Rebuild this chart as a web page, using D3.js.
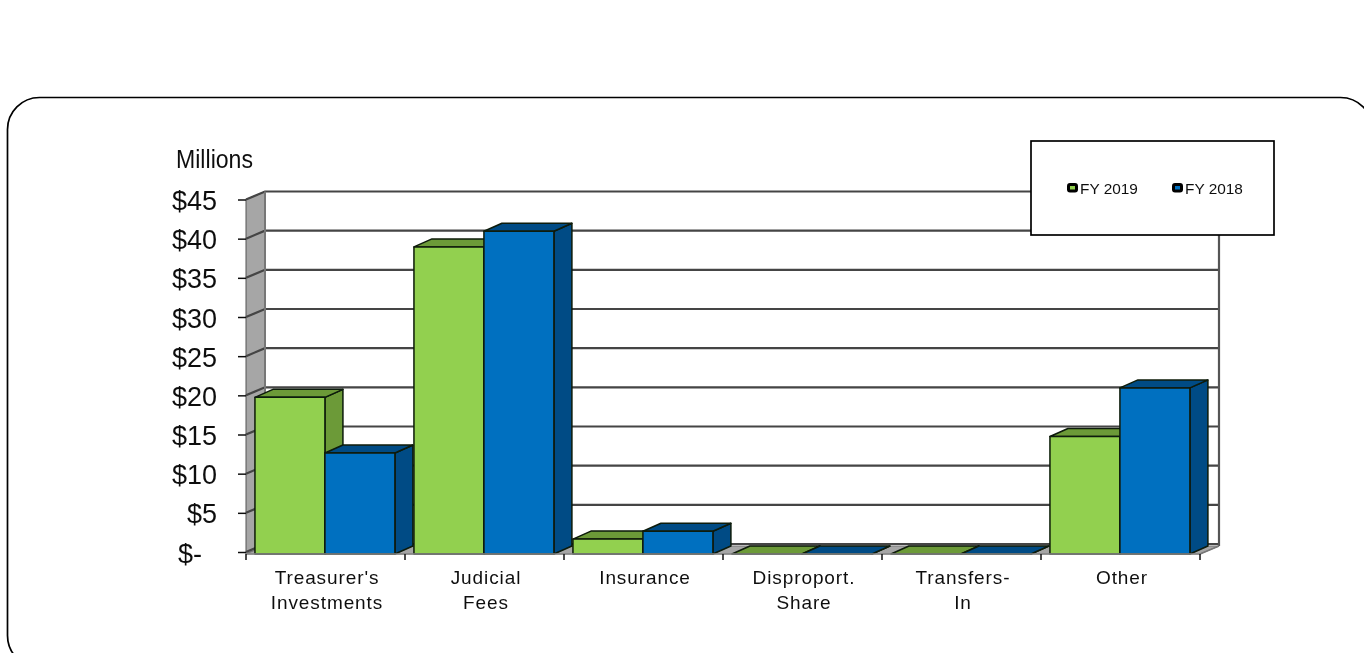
<!DOCTYPE html>
<html>
<head>
<meta charset="utf-8">
<script src="https://cdn.jsdelivr.net/npm/d3@7"></script>
<style>
  html, body { margin: 0; padding: 0; background: #fff; overflow: hidden; }
  text { font-family: "Liberation Sans", Arial, sans-serif; fill: #111; }
</style>
</head>
<body>
<div id="chart"></div>
<script>
// 数据
var categories = ["Treasurer's|Investments", "Judicial|Fees", "Insurance", "Disproport.|Share", "Transfers-|In", "Other"];
var seriesNames = ["FY 2019", "FY 2018"];
var fy2019 = [20, 39.2, 1.9, 0, 0, 15];
var fy2018 = [12.9, 41.2, 2.9, 0, 0, 21.2];
var yTicks = [0, 5, 10, 15, 20, 25, 30, 35, 40, 45];
var seriesValues = [fy2019, fy2018];

var frontColor = ["#92d050", "#0070c0"];
var darkColor = ["#6c9a38", "#004c85"];

var WIDTH = 1364, HEIGHT = 653;
var DEPTH_X = 19, DEPTH_Y = 8;   // 3D depth of the plot box
var BASE_SHIFT = 2;              // bars stand a bit below the zero tick

var svg = d3.select("#chart").append("svg")
  .attr("width", WIDTH)
  .attr("height", HEIGHT)
  .style("display", "block");

// soft edges, the original is a scaled-up bitmap
var defs = svg.append("defs");
defs.append("filter").attr("id", "soft")
  .attr("x", 0).attr("y", 0).attr("width", WIDTH).attr("height", HEIGHT)
  .attr("filterUnits", "userSpaceOnUse")
  .append("feGaussianBlur").attr("stdDeviation", 0.45);

var root = svg.append("g").attr("filter", "url(#soft)");

// outer rounded frame
root.append("rect")
  .attr("x", 7.5).attr("y", 97.5)
  .attr("width", 1365).attr("height", 570)
  .attr("rx", 32).attr("ry", 32)
  .attr("fill", "#fff").attr("stroke", "#000").attr("stroke-width", 1.7);

var yScale = d3.scaleLinear().domain([0, 45]).range([552, 199.5]);
var x0 = 246, x1 = 1200;
var xScale = d3.scaleBand().domain(categories).range([x0, x1]);
var serScale = d3.scaleBand().domain(seriesNames).range([0, xScale.bandwidth()]).paddingOuter(0.136).align(0.47);

var yBase = yScale(0) + BASE_SHIFT;

// side wall and floor
root.append("polygon")
  .attr("points", [[x0, yScale(45)], [x0 + DEPTH_X, yScale(45) - DEPTH_Y], [x0 + DEPTH_X, yBase - DEPTH_Y], [x0, yBase]].join(" "))
  .attr("fill", "#a6a6a6").attr("stroke", "#555").attr("stroke-width", 1);
root.append("polygon")
  .attr("points", [[x0, yBase], [x0 + DEPTH_X, yBase - DEPTH_Y], [x1 + DEPTH_X, yBase - DEPTH_Y], [x1, yBase]].join(" "))
  .attr("fill", "#a6a6a6").attr("stroke", "#777").attr("stroke-width", 1);

// back wall gridlines
var grid = root.append("g").attr("class", "grid");
yTicks.forEach(function (v) {
  var y = yScale(v);
  grid.append("path")
    .attr("d", "M" + x0 + "," + y + "L" + (x0 + DEPTH_X) + "," + (y - DEPTH_Y) + "L" + (x1 + DEPTH_X) + "," + (y - DEPTH_Y))
    .attr("fill", "none").attr("stroke", "#444").attr("stroke-width", 2.2);
});
grid.append("line")
  .attr("x1", x0 + DEPTH_X).attr("x2", x0 + DEPTH_X)
  .attr("y1", yScale(45) - DEPTH_Y).attr("y2", yBase - DEPTH_Y)
  .attr("stroke", "#777").attr("stroke-width", 2);
grid.append("line")
  .attr("x1", x1 + DEPTH_X).attr("x2", x1 + DEPTH_X)
  .attr("y1", yScale(45) - DEPTH_Y).attr("y2", yBase - DEPTH_Y)
  .attr("stroke", "#555").attr("stroke-width", 2.2);
grid.append("line")
  .attr("x1", x1).attr("x2", x1 + DEPTH_X)
  .attr("y1", yBase).attr("y2", yBase - DEPTH_Y)
  .attr("stroke", "#777").attr("stroke-width", 1.5);

// 画柱子
var bars = root.append("g").attr("class", "bars");
categories.forEach(function (cat, i) {
  seriesNames.forEach(function (name, s) {
    var v = seriesValues[s][i];
    var bx = xScale(cat) + serScale(name);
    var bw = serScale.bandwidth();
    var by = yScale(v) + BASE_SHIFT;
    var g = bars.append("g").attr("stroke", "#0c1a08").attr("stroke-width", 1.5).attr("stroke-linejoin", "round");
    // side face
    g.append("polygon")
      .attr("points", [[bx + bw, by], [bx + bw + DEPTH_X - 1, by - DEPTH_Y], [bx + bw + DEPTH_X - 1, yBase - DEPTH_Y], [bx + bw, yBase]].join(" "))
      .attr("fill", darkColor[s]);
    // top face
    g.append("polygon")
      .attr("points", [[bx, by], [bx + DEPTH_X - 1, by - DEPTH_Y], [bx + bw + DEPTH_X - 1, by - DEPTH_Y], [bx + bw, by]].join(" "))
      .attr("fill", darkColor[s]);
    // front face
    g.append("rect")
      .attr("x", bx).attr("y", by)
      .attr("width", bw).attr("height", yBase - by)
      .attr("fill", frontColor[s]);
  });
});

// y轴
var yAxis = d3.axisLeft(yScale)
  .tickValues(yTicks)
  .tickSize(8)
  .tickPadding(21)
  .tickFormat(function (d) { return d === 0 ? "$-" : "$" + d; });
var yG = root.append("g").attr("transform", "translate(" + x0 + ",0)").call(yAxis);
yG.select(".domain").remove();
yG.selectAll("line").attr("stroke", "#111").attr("stroke-width", 1.5);
yG.selectAll("text").style("font-size", "27px").attr("dy", "0.37em")
  .attr("dx", function (d) { return d === 0 ? -15 : 0; });

// x轴
root.append("line")
  .attr("x1", x0).attr("x2", x1).attr("y1", yBase).attr("y2", yBase)
  .attr("stroke", "#888").attr("stroke-width", 1.5);
var xEdges = categories.map(function (c) { return xScale(c); }).concat([x1]);
root.selectAll(".x-tick").data(xEdges).enter().append("line")
  .attr("class", "x-tick")
  .attr("x1", function (d) { return d; }).attr("x2", function (d) { return d; })
  .attr("y1", yBase).attr("y2", yBase + 6)
  .attr("stroke", "#111").attr("stroke-width", 1.5);

// 类别标签
categories.forEach(function (cat) {
  var lines = cat.split("|");
  lines.forEach(function (line, k) {
    root.append("text")
      .attr("x", xScale(cat) + xScale.bandwidth() / 2 + 1.5)
      .attr("y", 584 + k * 25)
      .attr("text-anchor", "middle")
      .style("font-size", "19px")
      .style("letter-spacing", "0.9px")
      .text(line);
  });
});

root.append("text")
  .attr("x", 176).attr("y", 168)
  .attr("textLength", 77)
  .attr("lengthAdjust", "spacingAndGlyphs")
  .style("font-size", "25px")
  .text("Millions");

// 图例
root.append("rect")
  .attr("x", 1031).attr("y", 141)
  .attr("width", 243).attr("height", 94)
  .attr("fill", "#fff").attr("stroke", "#000").attr("stroke-width", 1.7);
var legendX = d3.scalePoint().domain(seriesNames).range([1067, 1172]);
seriesNames.forEach(function (name, s) {
  var lx = legendX(name);
  root.append("rect")
    .attr("x", lx + 1.5).attr("y", 184.5).attr("width", 8).attr("height", 6.5)
    .attr("rx", 1.5)
    .attr("fill", frontColor[s]).attr("stroke", "#000").attr("stroke-width", 3);
  root.append("text")
    .attr("x", lx + 13).attr("y", 194)
    .style("font-size", "15.4px")
    .text(name);
});
</script>
</body>
</html>
